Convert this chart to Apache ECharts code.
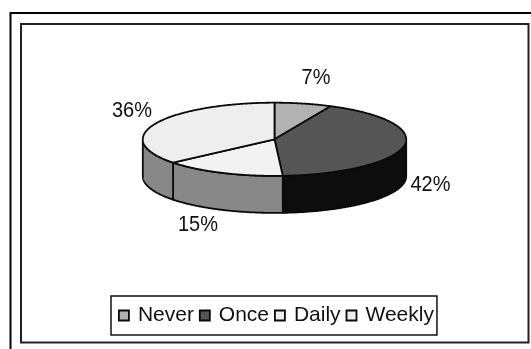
<!DOCTYPE html>
<html>
<head>
<meta charset="utf-8">
<style>html,body{margin:0;padding:0;background:#fff}#c{width:531px;height:349px}</style>
<script src="https://cdn.jsdelivr.net/npm/echarts@6/dist/echarts.min.js"></script>
</head>
<body>
<div id="c"></div>
<script>
var categories = ['Never', 'Once', 'Daily', 'Weekly'];
var values = [7, 42, 15, 36];

var topColors = ['#b2b2b2', '#555555', '#f2f2f2', '#eeeeee'];
var sideColors = ['#595959', '#0d0d0d', '#888888', '#888888'];
var legendColors = ['#b2b2b2', '#555555', '#eeeeee', '#eeeeee'];
var labelCenters = [[316, 78], [430.5, 185], [198, 225], [132, 111]];
var pie = { cx: 274.5, cy: 139.3, rx: 131.7, ry: 36.6, depth: 37 };
var INK = '#0a0a0a';
var FONT = '"Liberation Sans", Arial, sans-serif';

var total = values.reduce(function (a, b) { return a + b; }, 0);
function startOf(i) {
  var s = 0;
  for (var k = 0; k < i; k++) s += values[k];
  return s / total * 360;
}
function pt(deg, dy) {
  var r = deg * Math.PI / 180;
  return [pie.cx + pie.rx * Math.sin(r), pie.cy - pie.ry * Math.cos(r) + (dy || 0)];
}
function arc(a, b, dy) {
  var out = [], n = Math.max(2, Math.ceil(Math.abs(b - a) * 2));
  for (var j = 0; j <= n; j++) out.push(pt(a + (b - a) * j / n, dy));
  return out;
}
function renderSlice(i) {
  return function (params, api) {
    var a = startOf(i), b = a + api.value(0) / total * 360;
    var children = [];
    var fa = Math.max(a, 90), fb = Math.min(b, 270);
    if (fb > fa) {
      children.push({
        type: 'polygon', z2: 1,
        shape: { points: arc(fa, fb, 0).concat(arc(fb, fa, pie.depth)) },
        style: { fill: sideColors[i], stroke: INK, lineWidth: 1.8, lineJoin: 'round' }
      });
    }
    children.push({
      type: 'polygon', z2: 2,
      shape: { points: [[pie.cx, pie.cy]].concat(arc(a, b, 0)) },
      style: { fill: topColors[i], stroke: INK, lineWidth: 1.8, lineJoin: 'round' }
    });
    children.push({
      type: 'text', z2: 3,
      x: labelCenters[i][0], y: labelCenters[i][1], scaleY: 1.1,
      style: {
        text: api.value(0) + '%', x: 0, y: 0,
        align: 'center', verticalAlign: 'middle', fill: '#111', font: '20px ' + FONT
      }
    });
    return { type: 'group', children: children };
  };
}

var chart = echarts.init(document.getElementById('c'), null, { renderer: 'canvas' });
chart.setOption({
  animation: false,
  backgroundColor: '#ffffff',
  legend: {
    left: 111, top: 296,
    orient: 'horizontal',
    padding: [9, 3, 9, 7],
    itemGap: 5, itemWidth: 10, itemHeight: 10,
    borderColor: '#111', borderWidth: 1.5,
    selectedMode: false,
    textStyle: { fontFamily: FONT, fontSize: 21, color: '#111', padding: [0, 0, 0, 4] },
    data: categories.map(function (n, i) {
      return { name: n, icon: 'rect', itemStyle: { color: legendColors[i], borderColor: INK, borderWidth: 1.8 } };
    })
  },
  graphic: [
    { type: 'polyline', shape: { points: [[10.5, 349], [10.5, 13], [531, 13]] }, style: { fill: null, stroke: '#000', lineWidth: 2 } },
    { type: 'rect', shape: { x: 21, y: 24, width: 507.5, height: 318.5 }, style: { fill: null, stroke: '#222', lineWidth: 2 } }
  ],
  series: categories.map(function (n, i) {
    return {
      type: 'custom', name: n, coordinateSystem: 'none',
      itemStyle: { color: legendColors[i] },
      renderItem: renderSlice(i),
      data: [[values[i]]],
      silent: true
    };
  })
});
</script>
</body>
</html>
